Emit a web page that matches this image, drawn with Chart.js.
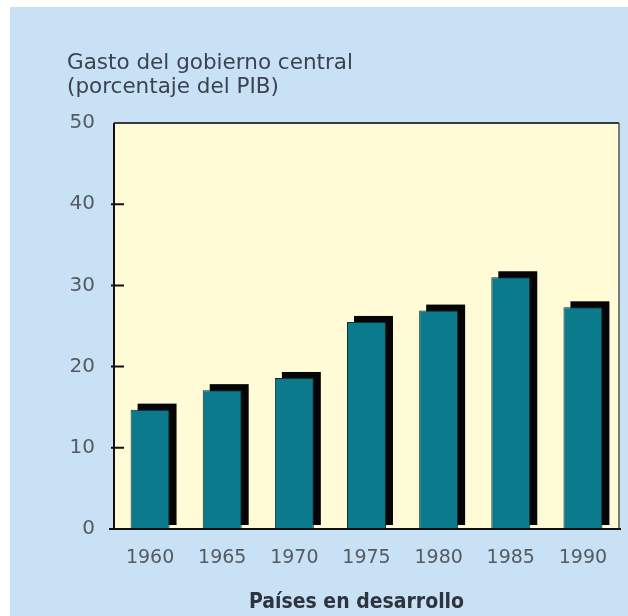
<!DOCTYPE html>
<html>
<head>
<meta charset="utf-8">
<script src="https://cdn.jsdelivr.net/npm/chart.js@4"></script>
<style>
    html, body { margin: 0; padding: 0; background: #fff; overflow: hidden; }
    #panel {
        position: absolute; left: 10px; top: 7px;
        width: 618px; height: 609px;
        background: #c8e1f4;
    }
</style>
</head>
<body>
<div id="panel"><canvas id="chart" width="618" height="609"></canvas></div>
<script>
    // Data
    const years = ['1960', '1965', '1970', '1975', '1980', '1985', '1990'];
    const gasto = [14.7, 17.1, 18.6, 25.5, 26.9, 31.0, 27.3];
    const yTicks = [0, 10, 20, 30, 40, 50];
    const titleLines = ['Gasto del gobierno central', '(porcentaje del PIB)'];
    const xTitle = 'Países en desarrollo';

    const FONT = '"DejaVu Sans", Verdana, sans-serif';

    // Yellow plot area, black bar shadows, frame and inner ticks, titles
    const decor = {
        id: 'decor',
        beforeDraw(chart) {
            const { ctx, chartArea: a } = chart;
            ctx.save();
            ctx.fillStyle = '#fffbd6';
            ctx.fillRect(a.left, a.top, a.right - a.left, a.bottom - a.top);
            ctx.restore();
        },
        beforeDatasetsDraw(chart) {
            const { ctx } = chart;
            const meta = chart.getDatasetMeta(0);
            ctx.save();
            ctx.fillStyle = '#050505';
            meta.data.forEach(bar => {
                const w = bar.width;
                const top = bar.y - 6;
                ctx.fillRect(bar.x - w / 2 + 7, top, w, bar.base - 4 - top);
            });
            ctx.restore();
        },
        afterDatasetsDraw(chart) {
            const { ctx, chartArea: a, scales } = chart;
            ctx.save();
            ctx.strokeStyle = '#3a3a3a';
            ctx.lineWidth = 2;
            ctx.beginPath();
            ctx.moveTo(a.left, a.top);
            ctx.lineTo(a.right, a.top);
            ctx.stroke();
            ctx.lineWidth = 1.5;
            ctx.strokeStyle = '#555';
            ctx.beginPath();
            ctx.moveTo(a.right, a.top);
            ctx.lineTo(a.right, a.bottom);
            ctx.stroke();

            ctx.strokeStyle = '#111';
            ctx.lineWidth = 2;
            ctx.beginPath();
            ctx.moveTo(a.left, a.top);
            ctx.lineTo(a.left, a.bottom);
            ctx.moveTo(a.left - 5, a.bottom);
            ctx.lineTo(a.right + 2, a.bottom);
            yTicks.forEach(v => {
                if (v === 0 || v === 50) return;
                const y = scales.y.getPixelForValue(v);
                ctx.moveTo(a.left - 3, y);
                ctx.lineTo(a.left + 10, y);
            });
            ctx.stroke();

            // chart title, top left
            ctx.fillStyle = '#3d4252';
            ctx.font = '21.5px ' + FONT;
            ctx.textAlign = 'left';
            ctx.textBaseline = 'alphabetic';
            titleLines.forEach((t, i) => ctx.fillText(t, 57, 62 + i * 24));

            // x axis title
            ctx.fillStyle = '#2e3340';
            ctx.font = 'bold 21px "Liberation Sans Narrow", "DejaVu Sans Condensed", sans-serif';
            ctx.textAlign = 'center';
            ctx.textBaseline = 'middle';
            ctx.fillText(xTitle, (a.left + a.right) / 2 - 10, 596);
            ctx.restore();
        }
    };

    new Chart(document.getElementById('chart'), {
        type: 'bar',
        data: {
            labels: years,
            datasets: [{
                data: gasto,
                backgroundColor: '#0a7a8c',
                borderColor: '#0b2d33',
                borderWidth: 1,
                barPercentage: 0.54,
                categoryPercentage: 1
            }]
        },
        options: {
            responsive: false,
            animation: false,
            events: [],
            layout: { padding: { top: 116, right: 9, bottom: 0, left: 0 } },
            plugins: {
                legend: { display: false },
                tooltip: { enabled: false }
            },
            scales: {
                x: {
                    grid: { display: false },
                    border: { display: false },
                    ticks: {
                        color: '#555a63',
                        font: { family: FONT, size: 19 },
                        padding: 10,
                        maxRotation: 0
                    },
                    afterFit(scale) { scale.height = 87; }
                },
                y: {
                    min: 0,
                    max: 50,
                    grid: { display: false },
                    border: { display: false },
                    afterBuildTicks(scale) {
                        scale.ticks = yTicks.map(v => ({ value: v }));
                    },
                    ticks: {
                        color: '#555a63',
                        font: { family: FONT, size: 20 },
                        padding: 11
                    },
                    afterFit(scale) { scale.width = 104; }
                }
            }
        },
        plugins: [decor]
    });
</script>
</body>
</html>
